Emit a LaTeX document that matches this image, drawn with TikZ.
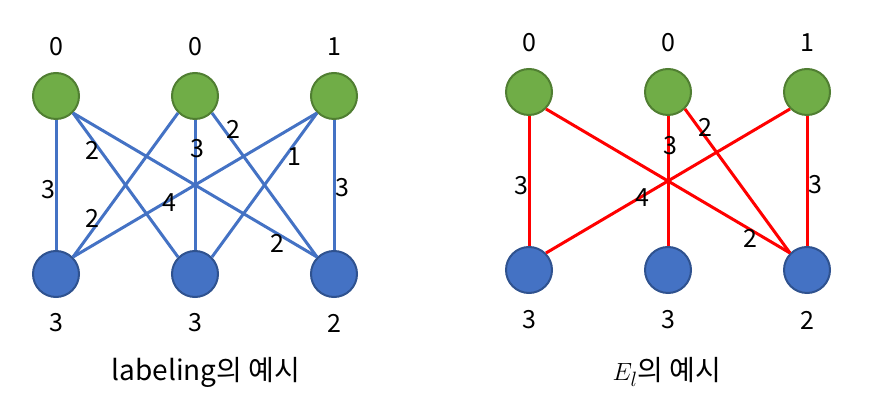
\documentclass[tikz,border=0pt]{standalone}
\usepackage{fontspec}
\setmainfont{Noto Sans CJK KR}
\usetikzlibrary{shapes,arrows}
\definecolor{leafgreen}{HTML}{70AD47}
\definecolor{leafgreenline}{HTML}{507E32}
\definecolor{nodeblue}{HTML}{4472C4}
\definecolor{nodeblueline}{HTML}{2F528F}

\begin{document}
\begin{tikzpicture}[x=1pt, y=-1pt, font=\fontsize{25}{30}\selectfont]
\tikzstyle{vertexg}=[circle, draw=leafgreenline, fill=leafgreen, line width=2pt, minimum size=46pt, inner sep=0pt]
\tikzstyle{vertexb}=[circle, draw=nodeblueline, fill=nodeblue, line width=2pt, minimum size=46pt, inner sep=0pt]
\tikzstyle{edgeb}=[line width=3pt, draw=nodeblue]
\tikzstyle{edger}=[line width=3pt, draw=red]
\tikzstyle{weight}=[inner sep=1pt]
\tikzstyle{caption}=[font=\fontsize{28}{34}\selectfont]
\useasboundingbox (0,0) rectangle (871,411);

% left: labeling
\node[vertexg] (L0x0) at (56,96) {};
\node[vertexg] (L1x0) at (195,96) {};
\node[vertexg] (L2x0) at (334,96) {};
\node[vertexb] (L0x1) at (56,274) {};
\node[vertexb] (L1x1) at (195,274) {};
\node[vertexb] (L2x1) at (334,274) {};
\node (LT0) at (56,47) {0};
\node (LT1) at (195,47) {0};
\node (LT2) at (334,47) {1};
\node (LB0) at (56,323) {3};
\node (LB1) at (195,323) {3};
\node (LB2) at (334,323) {2};
\draw[edgeb] (L0x0.south) -- (L0x1.north);
\draw[edgeb] (L0x0.south east) -- (L1x1.north west);
\draw[edgeb] (L0x0.south east) -- (L2x1.north west);
\draw[edgeb] (L1x0.south west) -- (L0x1.north east);
\draw[edgeb] (L1x0.south) -- (L1x1.north);
\draw[edgeb] (L1x0.south east) -- (L2x1.north west);
\draw[edgeb] (L2x0.south west) -- (L0x1.north east);
\draw[edgeb] (L2x0.south west) -- (L1x1.north east);
\draw[edgeb] (L2x0.south) -- (L2x1.north);
\node[weight] (LW00) at (48,190) {3};
\node[weight] (LW01) at (92,150) {2};
\node[weight] (LW02) at (277,243) {2};
\node[weight] (LW10) at (92,218) {2};
\node[weight] (LW11) at (197,149) {3};
\node[weight] (LW12) at (233,129) {2};
\node[weight] (LW20) at (169,203) {4};
\node[weight] (LW21) at (294,157) {1};
\node[weight] (LW22) at (342,188) {3};
\node[caption] (LCap) at (206,372) {labeling의 예시};

% right: E_l
\node[vertexg] (R0x0) at (529,92) {};
\node[vertexg] (R1x0) at (668,92) {};
\node[vertexg] (R2x0) at (807,92) {};
\node[vertexb] (R0x1) at (529,270) {};
\node[vertexb] (R1x1) at (668,270) {};
\node[vertexb] (R2x1) at (807,270) {};
\node (RT0) at (529,43) {0};
\node (RT1) at (668,43) {0};
\node (RT2) at (807,43) {1};
\node (RB0) at (529,320) {3};
\node (RB1) at (668,320) {3};
\node (RB2) at (807,320) {2};
\draw[edger] (R0x0.south) -- (R0x1.north);
\draw[edger] (R0x0.south east) -- (R2x1.north west);
\draw[edger] (R1x0.south) -- (R1x1.north);
\draw[edger] (R1x0.south east) -- (R2x1.north west);
\draw[edger] (R2x0.south west) -- (R0x1.north east);
\draw[edger] (R2x0.south) -- (R2x1.north);
\node[weight] (RW00) at (521,186) {3};
\node[weight] (RW02) at (750,238) {2};
\node[weight] (RW11) at (670,146) {3};
\node[weight] (RW12) at (705,127) {2};
\node[weight] (RW20) at (642,198) {4};
\node[weight] (RW22) at (815,185) {3};
\node[caption] (RCap) at (667,372) {$E_l$의 예시};
\end{tikzpicture}
\end{document}
